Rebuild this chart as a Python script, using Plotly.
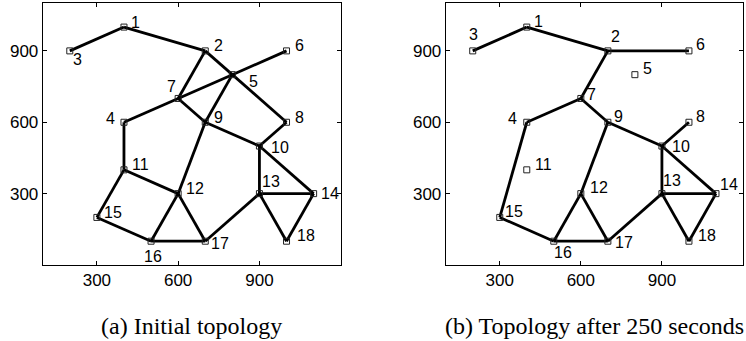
import plotly.graph_objects as go

# Node coordinates (node id -> position), same in both panels
node_ids = list(range(1, 19))
node_x = [400, 700, 200, 400, 800, 1000, 600, 1000, 700, 900, 400, 600, 900, 1100, 300, 500, 700, 1000]
node_y = [1000, 900, 900, 600, 800, 900, 700, 600, 600, 500, 400, 300, 300, 300, 200, 100, 100, 100]

edges_initial = [(1, 3), (1, 2), (2, 7), (2, 5), (5, 8), (7, 5), (5, 6), (5, 9), (9, 12),
                 (7, 9), (9, 10), (8, 10), (4, 7), (4, 11), (11, 12), (11, 15), (15, 16),
                 (16, 12), (12, 17), (16, 17), (17, 13), (10, 13), (10, 14), (13, 14),
                 (13, 18), (14, 18)]
edges_after = [(1, 3), (1, 2), (2, 6), (2, 7), (7, 4), (7, 9), (9, 10), (10, 8), (9, 12),
               (4, 15), (15, 16), (16, 12), (12, 17), (16, 17), (17, 13), (10, 13), (10, 14),
               (13, 14), (13, 18), (14, 18)]

x_ticks = [300, 600, 900]
y_ticks = [300, 600, 900]
captions = ["(a) Initial topology", "(b) Topology after 250 seconds"]

# label pixel offsets (style only)
offs_a = {1: (12, -5), 2: (13, -5), 3: (8, 9), 4: (-13, -4), 5: (21, 7), 6: (13, -5),
          7: (-7, -12), 8: (13, -5), 9: (13, -5), 10: (21, 1), 11: (17, -5), 12: (17, -5),
          13: (12, -12), 14: (16, 0), 15: (16, -5), 16: (2, 15), 17: (15, 2), 18: (19, -6)}
offs_b = {1: (12, -6), 2: (8, -14), 3: (1, -16), 4: (-14, -4), 5: (13, -6), 6: (12, -6),
          7: (11, -4), 8: (12, -6), 9: (11, -6), 10: (19, 0), 11: (17, -5), 12: (18, -6),
          13: (10, -13), 14: (13, -9), 15: (14, -6), 16: (9, 11), 17: (16, 1), 18: (18, -6)}

pos = {n: (x, y) for n, x, y in zip(node_ids, node_x, node_y)}

fig = go.Figure()
annotations = []
for k, (edges, offs) in enumerate([(edges_initial, offs_a), (edges_after, offs_b)]):
    xa = "x" if k == 0 else "x2"
    ya = "y" if k == 0 else "y2"
    ex, ey = [], []
    for a, b in edges:
        ex += [pos[a][0], pos[b][0], None]
        ey += [pos[a][1], pos[b][1], None]
    fig.add_trace(go.Scatter(x=ex, y=ey, mode="lines", line=dict(color="black", width=2.8),
                             xaxis=xa, yaxis=ya, showlegend=False, hoverinfo="skip"))
    fig.add_trace(go.Scatter(x=node_x, y=node_y, mode="markers",
                             marker=dict(symbol="square-open", size=6, color="#222",
                                         line=dict(width=1, color="#222")),
                             xaxis=xa, yaxis=ya, showlegend=False))
    for n in node_ids:
        dx, dy = offs[n]
        annotations.append(dict(x=pos[n][0], y=pos[n][1], xref=xa, yref=ya, text=str(n),
                                showarrow=False, xshift=dx, yshift=-dy,
                                font=dict(family="Liberation Sans, Arial", size=16, color="black")))

cap_font = dict(family="Liberation Serif, Times New Roman", size=24, color="black")
annotations.append(dict(x=191.7 / 746, y=1 - 326 / 341, xref="paper", yref="paper", text=captions[0],
                        showarrow=False, xanchor="center", yanchor="middle", font=cap_font))
annotations.append(dict(x=1.0, y=1 - 326 / 341, xref="paper", yref="paper", text=captions[1],
                        showarrow=False, xanchor="right", yanchor="middle", font=cap_font))

axis_common = dict(showgrid=False, zeroline=False, showline=True, linecolor="black", linewidth=1,
                   mirror="ticks", ticks="inside", ticklen=4, tickcolor="black",
                   tickfont=dict(family="Liberation Sans, Arial", size=17, color="black"))

fig.update_layout(
    width=746, height=341, margin=dict(l=0, r=0, t=0, b=0),
    plot_bgcolor="white", paper_bgcolor="white",
    xaxis=dict(domain=[42.7 / 746, 340.7 / 746], range=[100, 1200], tickvals=x_ticks, anchor="y", **axis_common),
    yaxis=dict(domain=[1 - 265 / 341, 1 - 3.3 / 341], range=[0, 1100], tickvals=y_ticks, anchor="x", **axis_common),
    xaxis2=dict(domain=[445.7 / 746, 743 / 746], range=[100, 1200], tickvals=x_ticks, anchor="y2", **axis_common),
    yaxis2=dict(domain=[1 - 265 / 341, 1 - 3.3 / 341], range=[0, 1100], tickvals=y_ticks, anchor="x2", **axis_common),
    annotations=annotations,
)

fig.write_html("out.html")
